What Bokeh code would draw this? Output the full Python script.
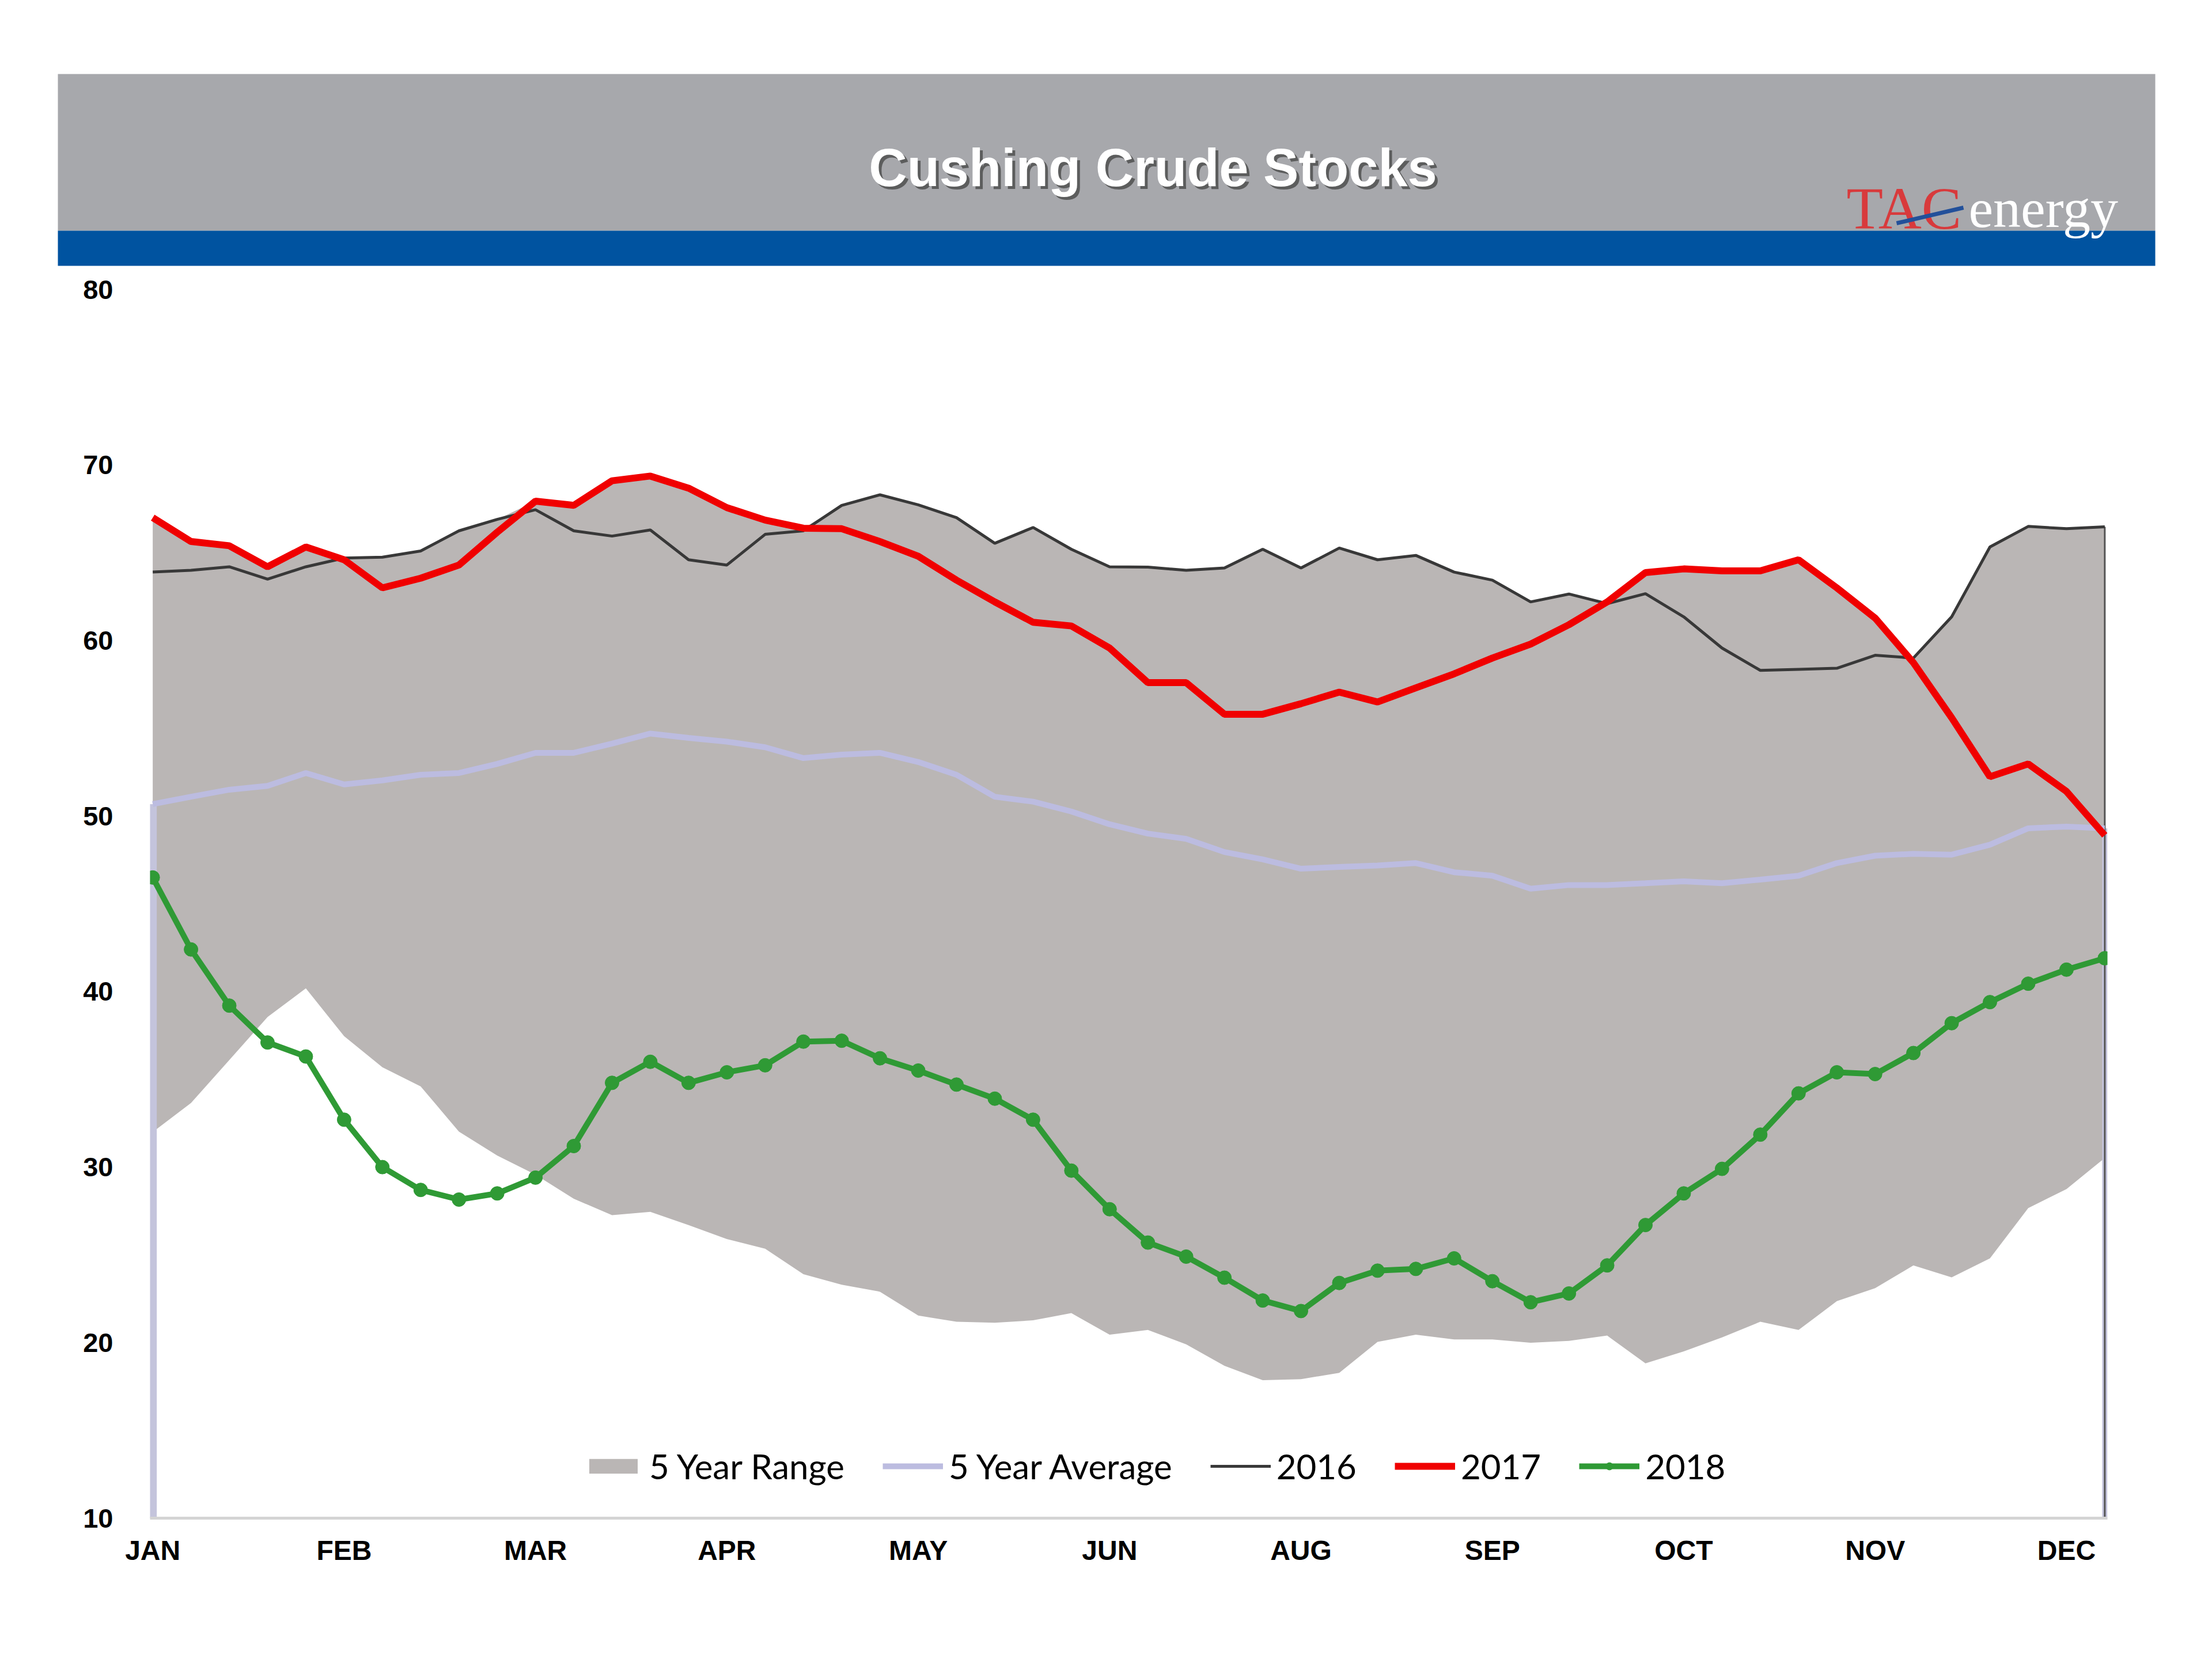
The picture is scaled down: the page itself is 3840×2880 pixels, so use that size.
from bokeh.plotting import figure
from bokeh.models import Range1d, FixedTicker, Legend, LegendItem
from bokeh.layouts import column
from bokeh.embed import file_html
from bokeh.resources import INLINE
from bokeh.core.properties import value

# ---------------- data ----------------
weeks = list(range(52))
month_ticks = [0, 5, 10, 15, 20, 25, 30, 35, 40, 45, 50]
month_labels = ["JAN", "FEB", "MAR", "APR", "MAY", "JUN", "AUG", "SEP", "OCT", "NOV", "DEC"]
y_ticks = [10, 20, 30, 40, 50, 60, 70, 80]

range_upper = [67.0, 65.64, 65.4, 64.2, 65.33, 64.7, 64.75, 65.1, 66.25, 66.9,
               67.94, 67.7, 69.1, 69.37, 68.68, 67.57, 66.86, 66.4, 67.7, 68.3,
               67.73, 67.0, 65.54, 66.44, 65.2, 64.2, 64.18, 64.0, 64.13, 65.2,
               64.13, 65.27, 64.6, 64.85, 63.9, 63.44, 62.2, 62.65, 62.2, 63.87,
               64.08, 63.97, 63.97, 64.6, 63.0, 61.28, 59.0, 61.35, 65.33, 66.5,
               66.37, 66.48]
range_lower = [32.0, 33.65, 36.1, 38.55, 40.18, 37.46, 35.69, 34.6, 32.02, 30.66,
               29.57, 28.2, 27.26, 27.45, 26.7, 25.9, 25.35, 23.9, 23.3, 22.9,
               21.54, 21.19, 21.13, 21.27, 21.68, 20.45, 20.72, 19.9, 18.68, 17.86,
               17.92, 18.28, 20.04, 20.45, 20.18, 20.18, 19.99, 20.1, 20.4, 18.82,
               19.5, 20.3, 21.19, 20.72, 22.36, 23.1, 24.4, 23.72, 24.8, 27.66,
               28.75, 30.52]
avg5 = [50.68, 51.1, 51.5, 51.72, 52.45, 51.8, 52.03, 52.35, 52.45, 52.97,
        53.6, 53.6, 54.13, 54.7, 54.45, 54.24, 53.92, 53.3, 53.5, 53.6,
        53.08, 52.35, 51.1, 50.82, 50.26, 49.53, 49.0, 48.7, 47.95, 47.53,
        47.0, 47.1, 47.18, 47.32, 46.8, 46.6, 45.86, 46.07, 46.07, 46.17,
        46.28, 46.17, 46.38, 46.6, 47.32, 47.74, 47.85, 47.8, 48.37, 49.3,
        49.4, 49.3]
y2016 = [63.9, 64.0, 64.2, 63.5, 64.2, 64.7, 64.75, 65.1, 66.25, 66.9,
         67.45, 66.25, 65.95, 66.3, 64.6, 64.3, 66.05, 66.25, 67.7, 68.3,
         67.73, 67.0, 65.54, 66.44, 65.2, 64.2, 64.18, 64.0, 64.13, 65.2,
         64.13, 65.27, 64.6, 64.85, 63.9, 63.44, 62.2, 62.65, 62.1, 62.67,
         61.35, 59.57, 58.3, 58.36, 58.42, 59.16, 59.0, 61.35, 65.33, 66.5,
         66.37, 66.48]
y2017 = [67.0, 65.64, 65.4, 64.2, 65.33, 64.6, 63.0, 63.55, 64.3, 66.17,
         67.94, 67.7, 69.1, 69.37, 68.68, 67.57, 66.86, 66.4, 66.37, 65.64,
         64.8, 63.44, 62.2, 61.04, 60.83, 59.57, 57.6, 57.6, 55.8, 55.8,
         56.4, 57.06, 56.5, 57.3, 58.1, 59.0, 59.8, 60.9, 62.2, 63.87,
         64.08, 63.97, 63.97, 64.6, 63.0, 61.28, 58.74, 55.6, 52.24, 52.97,
         51.4, 48.9]
y2018 = [46.5, 42.4, 39.2, 37.1, 36.3, 32.7, 30.0, 28.7, 28.15, 28.5,
         29.4, 31.2, 34.8, 36.0, 34.8, 35.4, 35.8, 37.15, 37.2, 36.2,
         35.5, 34.7, 33.9, 32.7, 29.8, 27.6, 25.7, 24.9, 23.7, 22.4,
         21.8, 23.4, 24.1, 24.2, 24.8, 23.5, 22.3, 22.8, 24.4, 26.7,
         28.5, 29.9, 31.85, 34.2, 35.4, 35.3, 36.5, 38.2, 39.4, 40.45,
         41.25, 41.9]

# ---------------- layout constants ----------------
W = 3820
HEADER_H = 470
MAIN_H = 2398

# ---------------- header ----------------
header = figure(width=W, height=HEADER_H, x_range=Range1d(0, W), y_range=Range1d(HEADER_H, 0),
                output_backend="svg", toolbar_location=None, min_border=0,
                x_axis_location=None, y_axis_location=None)
header.frame_align = False
header.grid.visible = False
header.outline_line_color = None
header.quad(left=[100], right=[3741], top=[128], bottom=[400], fill_color="#a7a8ac", line_color=None)
header.quad(left=[100], right=[3741], top=[400], bottom=[461], fill_color="#0053a0", line_color=None)
header.text(x=[2006], y=[295], text=["Cushing Crude Stocks"], text_align="center", text_baseline="middle",
            text_font=value("Liberation Sans"), text_font_style="bold", text_font_size="92px",
            text_color="#4a4a4a", text_alpha=0.8)
header.text(x=[2001], y=[290], text=["Cushing Crude Stocks"], text_align="center", text_baseline="middle",
            text_font=value("Liberation Sans"), text_font_style="bold", text_font_size="92px",
            text_color="white")
header.text(x=[3205], y=[361], text=["TAC"], text_align="left", text_baseline="alphabetic",
            text_font=value("Liberation Serif"), text_font_size="104px", text_color="#d83a3c")
header.text(x=[3417], y=[361], text=["energy"], text_align="left", text_baseline="alphabetic",
            text_font=value("Liberation Serif"), text_font_size="96px", text_color="white")
header.segment(x0=[3292], y0=[387], x1=[3408], y1=[360], line_color="#22509a", line_width=7)

# ---------------- main chart ----------------
p = figure(width=W, height=MAIN_H, x_range=Range1d(-0.07, 51.07), y_range=Range1d(10, 80),
           output_backend="svg", toolbar_location=None,
           min_border_left=260, min_border_right=162, min_border_top=32, min_border_bottom=233)
p.frame_align = False
p.grid.visible = False
p.outline_line_color = None
p.background_fill_color = "white"

r_range = p.varea(x=weeks, y1=range_lower, y2=range_upper, fill_color="#bab6b5")

# edge drop lines (area chart artifacts)
p.segment(x0=[weeks[0]], y0=[avg5[0]], x1=[weeks[0]], y1=[y_ticks[0]], line_color="#c4c4dc", line_width=14)
p.segment(x0=[weeks[-1]], y0=[avg5[-1]], x1=[weeks[-1]], y1=[y_ticks[0]], line_color="#c4c4dc", line_width=9)
p.segment(x0=[weeks[-1]], y0=[y2016[-1]], x1=[weeks[-1]], y1=[y_ticks[0]], line_color="#555555", line_width=3)

r_avg = p.line(weeks, avg5, line_color="#bcbce0", line_width=10)
r_16 = p.line(weeks, y2016, line_color="#383838", line_width=5)
r_17 = p.line(weeks, y2017, line_color="#f00000", line_width=12)
r_18l = p.line(weeks, y2018, line_color="#2f9a35", line_width=10)
r_18m = p.scatter(weeks, y2018, size=24, fill_color="#2f9a35", line_color="#2f9a35", marker="circle")

# axes
p.yaxis.ticker = FixedTicker(ticks=y_ticks)
p.yaxis.major_tick_line_color = None
p.yaxis.minor_tick_line_color = None
p.yaxis.axis_line_color = None
p.yaxis.major_label_standoff = 58
p.yaxis.major_label_text_font = "Liberation Sans"
p.yaxis.major_label_text_font_style = "bold"
p.yaxis.major_label_text_font_size = "47px"
p.yaxis.major_label_text_color = "black"

p.xaxis.ticker = FixedTicker(ticks=month_ticks)
p.xaxis.major_label_overrides = {t: l for t, l in zip(month_ticks, month_labels)}
p.xaxis.major_tick_line_color = None
p.xaxis.minor_tick_line_color = None
p.xaxis.axis_line_color = "#d4d4d4"
p.xaxis.axis_line_width = 5
p.xaxis.major_label_standoff = 23
p.xaxis.major_label_text_font = "Liberation Sans"
p.xaxis.major_label_text_font_style = "bold"
p.xaxis.major_label_text_font_size = "48px"
p.xaxis.major_label_text_color = "black"

legend = Legend(items=[
    LegendItem(label="5 Year Range", renderers=[r_range]),
    LegendItem(label="5 Year Average", renderers=[r_avg]),
    LegendItem(label="2016", renderers=[r_16]),
    LegendItem(label="2017", renderers=[r_17]),
    LegendItem(label="2018", renderers=[r_18l, r_18m]),
], location=(752, 54), orientation="horizontal")
legend.label_text_font = "Lato"
legend.label_text_font_size = "60px"
legend.label_text_color = "black"
legend.glyph_width = 105
legend.glyph_height = 32
legend.label_standoff = 10
legend.spacing = 66
legend.padding = 0
legend.margin = 0
legend.border_line_color = None
legend.background_fill_alpha = 0
p.add_layout(legend)

layout = column(header, p, spacing=0)
open("out.html", "w").write(file_html(layout, INLINE))
